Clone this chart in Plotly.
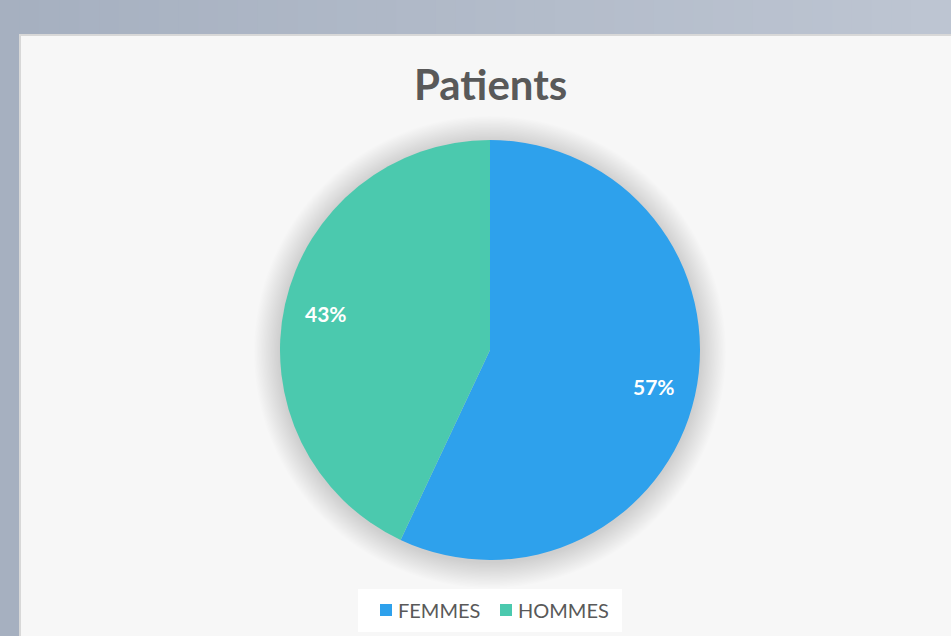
import math
import plotly.graph_objects as go

labels = ["FEMMES", "HOMMES"]
values = [57, 43]
colors = ["#2EA1EC", "#4BC9AE"]
title_text = "Patients"

W, H = 951, 636
cx, cy, r = 490, 350, 210  # pixel geometry of pie

def px_x(x):
    return x / W

def px_y(y):
    return 1 - y / H

fig = go.Figure()
fig.add_trace(go.Pie(
    labels=labels, values=values, sort=False, direction="clockwise", rotation=0,
    marker=dict(colors=colors, line=dict(width=0)),
    textinfo="none", hoverinfo="label+percent", showlegend=False,
    domain=dict(x=[px_x(cx - r), px_x(cx + r)], y=[px_y(cy + r), px_y(cy - r)]),
))

shapes = []
# outer background strips (subtle gradient)
n = 48
c0 = (0xa6, 0xb0, 0xc0)
c1 = (0xbd, 0xc5, 0xd2)
for i in range(n):
    t = i / (n - 1)
    c = tuple(round(a + (b - a) * t) for a, b in zip(c0, c1))
    shapes.append(dict(type="rect", xref="paper", yref="paper", x0=i / n, x1=(i + 1) / n + 0.002,
                       y0=0, y1=1, fillcolor="rgb(%d,%d,%d)" % c, line=dict(width=0), layer="below"))
# panel
shapes.append(dict(type="rect", xref="paper", yref="paper", x0=px_x(20), x1=1.01, y0=-0.01, y1=px_y(35),
                   fillcolor="#f7f7f7", line=dict(color="#d8d8d8", width=2), layer="below"))
# soft shadow around pie
for k in range(20, 0, -1):
    rr = r + k * 1.3
    shapes.append(dict(type="circle", xref="paper", yref="paper",
                       x0=px_x(cx - rr), x1=px_x(cx + rr), y0=px_y(cy + rr + 2), y1=px_y(cy - rr + 2),
                       fillcolor="rgba(0,0,0,0.006)", line=dict(width=0), layer="below"))

annotations = []
total = sum(values)
cum = 0
for lab, v in zip(labels, values):
    mid = (cum + v / 2) / total * 2 * math.pi
    cum += v
    x = cx + 0.8 * r * math.sin(mid)
    y = cy - 0.8 * r * math.cos(mid)
    annotations.append(dict(x=px_x(x), y=px_y(y), xref="paper", yref="paper", showarrow=False,
                            xanchor="center", yanchor="middle",
                            text=f"<b>{round(v / total * 100)}%</b>",
                            font=dict(family="Lato", size=21, color="white")))
annotations.append(dict(x=px_x(490), y=px_y(84), xref="paper", yref="paper", showarrow=False,
                        xanchor="center", yanchor="middle",
                        text=f"<b>{title_text}</b>", font=dict(family="Lato", size=42, color="#595959")))

# manual legend
shapes.append(dict(type="rect", xref="paper", yref="paper", x0=px_x(358), x1=px_x(622),
                   y0=px_y(632), y1=px_y(589), fillcolor="white", line=dict(width=0)))
leg_x = [380, 500]
for lab, col, lx in zip(labels, colors, leg_x):
    shapes.append(dict(type="rect", xref="paper", yref="paper", x0=px_x(lx), x1=px_x(lx + 12),
                       y0=px_y(616), y1=px_y(604), fillcolor=col, line=dict(width=0)))
    annotations.append(dict(x=px_x(lx + 16), y=px_y(610), xref="paper", yref="paper", showarrow=False,
                            xanchor="left", yanchor="middle", text=lab,
                            font=dict(family="Lato", size=20, color="#595959")))

fig.update_layout(
    width=W, height=H, margin=dict(l=0, r=0, t=0, b=0),
    paper_bgcolor="#abb5c5", plot_bgcolor="rgba(0,0,0,0)",
    shapes=shapes, annotations=annotations,
    showlegend=False,
)
fig.write_html("out.html", config={"displayModeBar": False},
               post_script="document.body.style.margin='0';document.body.style.overflow='hidden';")
